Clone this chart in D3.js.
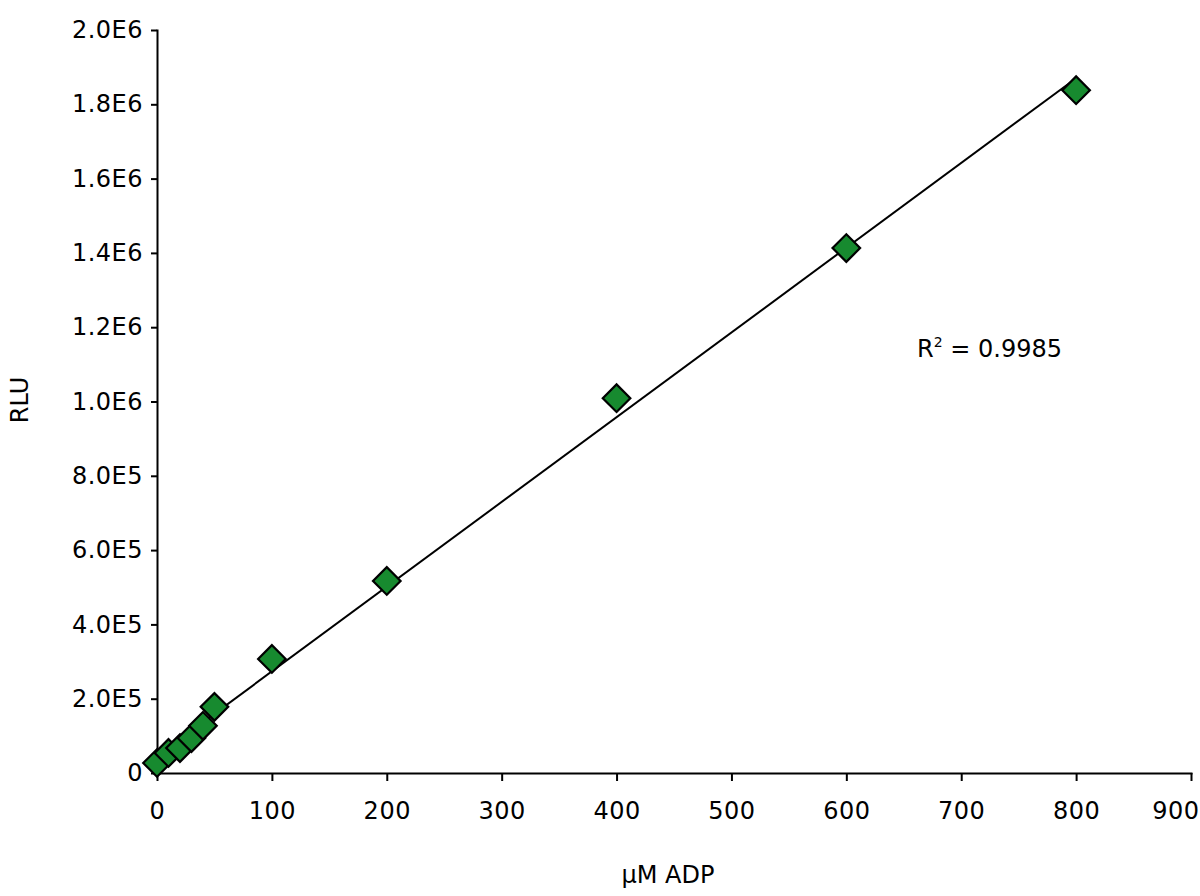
<!DOCTYPE html>
<html>
<head>
<meta charset="utf-8">
<script src="https://cdn.jsdelivr.net/npm/d3@7"></script>
<style>
  body { margin: 0; background: #fff; }
  svg { display: block; }
  .axis path, .axis line { stroke: #000; stroke-width: 2px; }
  .axis text { font-family: "DejaVu Sans", sans-serif; font-size: 24px; fill: #000; letter-spacing: 0.5px; }
  .label { font-family: "DejaVu Sans", sans-serif; font-size: 24px; fill: #000; }
</style>
</head>
<body>
<svg id="chart" width="1200" height="896"></svg>
<script>
// data
let adp = [0, 10, 20, 30, 40, 50, 100, 200, 400, 600, 800]
let rlu = [27000, 54000, 67000, 94000, 127000, 178000, 307000, 517000, 1009000, 1413000, 1838000]
let xTicks = [0, 100, 200, 300, 400, 500, 600, 700, 800, 900]
let yTicks = [0, 2e5, 4e5, 6e5, 8e5, 1e6, 1.2e6, 1.4e6, 1.6e6, 1.8e6, 2e6]
let yTickLabels = ["0", "2.0E5", "4.0E5", "6.0E5", "8.0E5", "1.0E6", "1.2E6", "1.4E6", "1.6E6", "1.8E6", "2.0E6"]
let r2Text = "0.9985"

let data = adp.map(function (d, i) { return {x: d, y: rlu[i]} })

let svg = d3.select("#chart")

let xScale = d3.scaleLinear().domain([0, 900]).range([157, 1191])
let yScale = d3.scaleLinear().domain([0, 2e6]).range([773, 30])

// least squares trend line
let mx = d3.mean(data, d => d.x)
let my = d3.mean(data, d => d.y)
let slope = d3.sum(data, d => (d.x - mx) * (d.y - my)) / d3.sum(data, d => (d.x - mx) * (d.x - mx))
let icpt = my - slope * mx
let xExt = d3.extent(adp)

// axes
let x_axis = d3.axisBottom(xScale).tickValues(xTicks).tickSize(8).tickPadding(21).tickSizeOuter(0)
let y_axis = d3.axisLeft(yScale).tickValues(yTicks).tickSize(6).tickPadding(8).tickSizeOuter(0)
    .tickFormat(function (d, i) { return yTickLabels[i] })

let gx = svg.append("g").attr("class", "axis")
    .attr("transform", `translate(0,${yScale(0)})`)
    .call(x_axis)
svg.append("g").attr("class", "axis")
    .attr("transform", `translate(${xScale(0)},0)`)
    .call(y_axis)
svg.selectAll(".axis .domain").attr("stroke-linecap", "square")

// last x label sits against the right edge, keep it inside
gx.selectAll(".tick text")
    .filter(function (d) { return d === xTicks[xTicks.length - 1] })
    .attr("text-anchor", "end")
    .attr("x", 1199 - xScale(xTicks[xTicks.length - 1]))

// trend line
svg.append("line")
    .attr("x1", xScale(xExt[0])).attr("y1", yScale(icpt + slope * xExt[0]))
    .attr("x2", xScale(xExt[1])).attr("y2", yScale(icpt + slope * xExt[1]))
    .attr("stroke", "#000").attr("stroke-width", 2)

// diamond markers
let diamond = d3.symbol().type(d3.symbolSquare).size(380)
svg.selectAll(".markers")
    .data(data)
    .enter()
    .append("path")
    .attr("class", "markers")
    .attr("d", diamond)
    .attr("transform", function (d) { return `translate(${xScale(d.x)},${yScale(d.y)}) rotate(45)` })
    .attr("fill", "#178a2f")
    .attr("stroke", "#000")
    .attr("stroke-width", 2.2)

// labels
svg.append("text").attr("class", "label")
    .attr("x", 668).attr("y", 883)
    .attr("text-anchor", "middle")
    .text("\u00b5M ADP")

svg.append("text").attr("class", "label")
    .attr("transform", "translate(28,400) rotate(-90)")
    .attr("text-anchor", "middle")
    .text("RLU")

let r2 = svg.append("text").attr("class", "label")
    .attr("x", 917).attr("y", 357)
r2.append("tspan").text("R")
r2.append("tspan").attr("font-size", "14px").attr("dy", -10).text("2")
r2.append("tspan").attr("dy", 10).text(" = " + r2Text)
</script>
</body>
</html>
